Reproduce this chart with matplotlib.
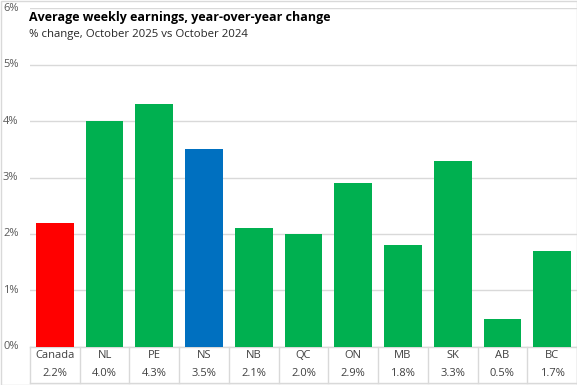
import matplotlib
matplotlib.use('Agg')
import matplotlib.pyplot as plt
import matplotlib.transforms as mtransforms
from matplotlib.patches import Rectangle
from matplotlib.ticker import FuncFormatter

regions = ['Canada', 'NL', 'PE', 'NS', 'NB', 'QC', 'ON', 'MB', 'SK', 'AB', 'BC']
changes = [2.2, 4.0, 4.3, 3.5, 2.1, 2.0, 2.9, 1.8, 3.3, 0.5, 1.7]
value_labels = ['2.2%', '4.0%', '4.3%', '3.5%', '2.1%', '2.0%', '2.9%', '1.8%', '3.3%', '0.5%', '1.7%']
bar_colors = ['#FF0000', '#00B050', '#00B050', '#0070C0', '#00B050', '#00B050',
              '#00B050', '#00B050', '#00B050', '#00B050', '#00B050']

plt.rcParams['font.family'] = ['Open Sans', 'DejaVu Sans']

W, H = 577, 385
fig = plt.figure(figsize=(W / 100, H / 100), dpi=100)

# plot area in pixel terms
left, right, top, bottom = 30, 577, 8.3, 346.7
ax = fig.add_axes([left / W, 1 - bottom / H, (right - left) / W, (bottom - top) / H])

x = list(range(len(regions)))
ax.bar(x, changes, width=0.76, color=bar_colors, zorder=3)

ax.set_xlim(-0.5, len(regions) - 0.5)
ax.set_ylim(0, 6)
ax.set_yticks(range(0, 7))
ax.yaxis.set_major_formatter(FuncFormatter(lambda v, p: f'{v:.0f}%'))
# left-aligned tick labels starting near the left edge of the figure
ax.tick_params(axis='y', length=0, pad=(left - 3) * 0.72, labelsize=8, labelcolor='#595959')
for lab in ax.get_yticklabels():
    lab.set_horizontalalignment('left')
    lab.set_verticalalignment('center')
ax.set_xticks([])
ax.grid(axis='y', color='#D9D9D9', linewidth=1, zorder=0)
for s in ax.spines.values():
    s.set_visible(False)

# table under the bars
trans = mtransforms.blended_transform_factory(ax.transData, ax.transAxes)
tab_bottom = -(382.7 - bottom) / (bottom - top)
for k in range(len(regions) + 1):
    ax.plot([k - 0.5, k - 0.5], [0, tab_bottom], color='#D9D9D9', lw=1,
            transform=trans, clip_on=False)
ax.plot([-0.5, len(regions) - 0.5], [tab_bottom, tab_bottom], color='#D9D9D9',
        lw=1, transform=trans, clip_on=False)
ax.plot([-0.5, len(regions) - 0.5], [0, 0], color='#D9D9D9',
        lw=1, transform=trans, clip_on=False)

name_y = -(356 - bottom) / (bottom - top)
val_y = -(373.3 - bottom) / (bottom - top)
for i, (name, lab) in enumerate(zip(regions, value_labels)):
    ax.text(i, name_y, name, transform=trans, ha='center', va='center',
            fontsize=8, color='#404040')
    ax.text(i, val_y, lab, transform=trans, ha='center', va='center',
            fontsize=8, color='#404040')

fig.text(29 / W, 1 - 20.7 / H, 'Average weekly earnings, year-over-year change',
         fontsize=9, fontweight='bold', color='black', va='baseline')
fig.text(29 / W, 1 - 36.5 / H, '% change, October 2025 vs October 2024',
         fontsize=8.2, color='#262626', va='baseline')

# outer border of the chart
fig.patches.append(Rectangle((0.5 / W, 0.5 / H), 1 - 1 / W, 1 - 1 / H,
                             transform=fig.transFigure, fill=False,
                             edgecolor='#D9D9D9', lw=1))

fig.savefig('out.png', dpi=100)
